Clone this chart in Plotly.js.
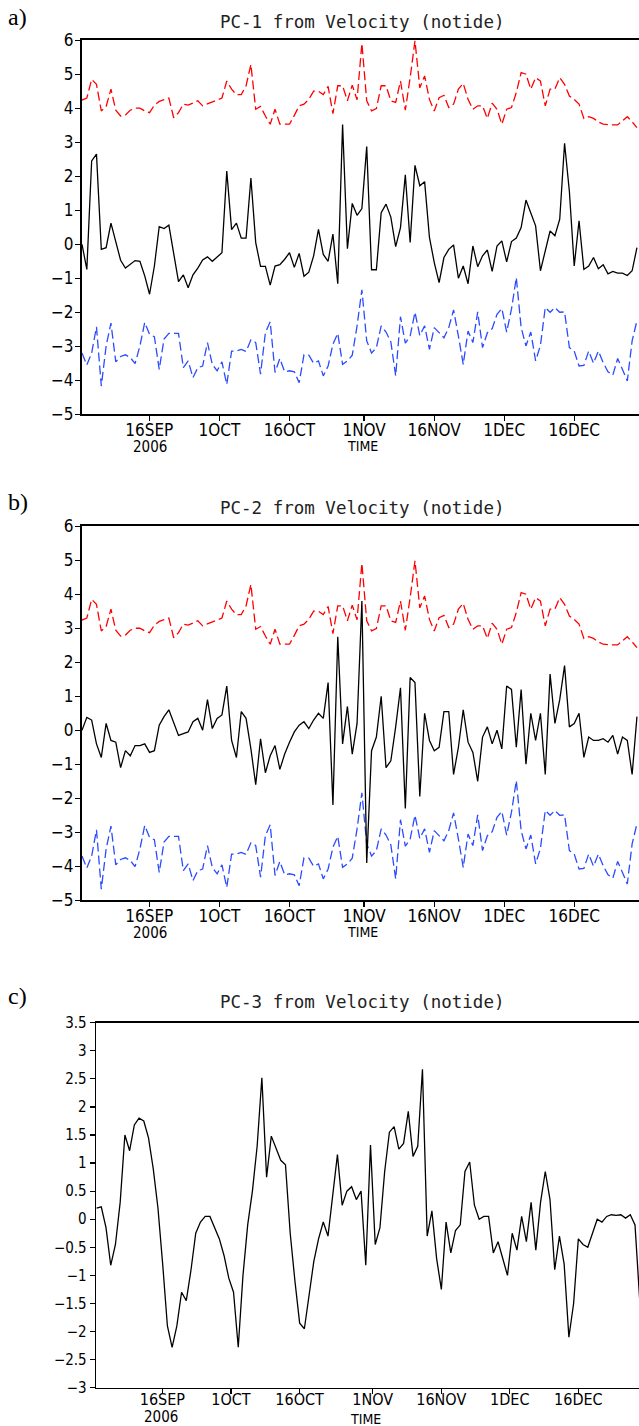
<!DOCTYPE html>
<html><head><meta charset="utf-8">
<script src="https://cdn.plot.ly/plotly-3.0.1.min.js"></script>
<style>html,body{margin:0;padding:0;background:#fff;overflow:hidden}#chart{width:639px;height:1426px}</style>
</head><body><div id="chart"></div>
<script>
// ---- data (one value every ~24.8 h, starting 2006-09-01 14:10) ----
const startTime = '2006-09-01T14:10:00Z';
const stepHours = 24.8;

const tickDates = ['2006-09-16','2006-10-01','2006-10-16','2006-11-01','2006-11-16','2006-12-01','2006-12-16'];
const tickLabels = ['16SEP','1OCT','16OCT','1NOV','16NOV','1DEC','16DEC'];

const pc1Black = [0.0,-0.74,2.45,2.65,-0.15,-0.1,0.62,0.05,-0.47,-0.7,-0.6,-0.48,-0.5,-0.93,-1.47,-0.64,0.52,0.46,0.56,-0.32,
 -1.1,-0.9,-1.28,-0.9,-0.7,-0.46,-0.37,-0.5,-0.36,-0.25,2.15,0.43,0.62,0.18,0.18,1.95,0.05,-0.65,-0.65,-1.2,
 -0.64,-0.6,-0.44,-0.25,-0.68,-0.27,-0.94,-0.82,-0.34,0.44,-0.3,-0.5,0.3,-1.16,3.52,-0.13,1.2,0.85,1.05,2.87,
 -0.75,-0.75,0.93,1.18,0.8,-0.07,0.49,2.04,0.05,2.32,1.72,1.84,0.2,-0.54,-1.13,-0.39,-0.15,-0.02,-1.0,-0.64,
 -1.16,-0.05,-0.66,-0.34,-0.17,-0.8,-0.05,0.1,-0.52,0.08,0.18,0.49,1.3,0.93,0.54,-0.78,-0.2,0.39,0.25,0.74,
 2.97,1.55,-0.64,0.69,-0.74,-0.64,-0.39,-0.72,-0.6,-0.87,-0.8,-0.85,-0.85,-0.92,-0.78,-0.1];
const pc1Red = [4.24,4.3,4.85,4.7,3.92,4.05,4.56,3.94,3.77,3.8,3.94,4.0,4.0,3.92,3.87,4.09,4.2,4.26,4.3,3.72,
 3.87,4.12,4.09,4.15,4.22,4.07,4.13,4.19,4.25,4.3,4.8,4.56,4.4,4.4,4.66,5.29,3.97,4.05,3.77,3.53,
 3.97,3.53,3.53,3.53,3.79,4.07,4.12,4.26,4.5,4.5,4.4,4.64,3.84,4.66,4.66,4.22,4.68,4.25,5.91,4.22,
 3.92,3.99,4.66,4.66,4.22,4.17,4.8,3.94,4.9,5.98,4.6,4.95,4.26,3.92,4.31,4.38,4.02,4.12,4.56,4.73,
 4.26,3.97,4.07,4.07,3.7,4.15,3.97,3.53,3.97,4.02,4.46,5.05,5.0,4.56,4.9,4.8,4.07,4.56,4.56,4.9,
 4.7,4.36,4.26,4.12,3.7,3.75,3.7,3.6,3.53,3.51,3.51,3.51,3.63,3.75,3.6,3.43];
const pc1Blue = [-3.2,-3.55,-3.2,-2.43,-4.17,-2.99,-2.32,-3.46,-3.3,-3.25,-3.33,-3.51,-2.99,-2.3,-2.65,-2.72,-3.68,-2.79,-2.62,-2.62,
 -2.62,-3.63,-3.43,-3.92,-3.63,-3.58,-2.89,-3.53,-3.72,-3.46,-4.12,-3.14,-3.14,-3.09,-3.15,-2.81,-2.89,-3.82,-2.6,-2.28,
 -3.77,-3.36,-3.75,-3.72,-3.75,-4.07,-3.25,-3.26,-3.5,-3.43,-3.87,-3.58,-2.94,-2.62,-3.53,-3.43,-3.26,-2.4,-1.34,-2.84,
 -3.2,-3.04,-2.4,-2.58,-2.87,-3.87,-2.13,-2.91,-2.7,-2.0,-2.68,-2.4,-3.09,-2.45,-2.6,-2.75,-2.45,-1.93,-2.7,-3.53,
 -2.55,-2.89,-1.99,-3.04,-2.6,-2.48,-2.06,-1.89,-2.58,-1.91,-0.98,-2.45,-2.99,-2.58,-3.43,-2.97,-1.86,-2.0,-1.86,-2.0,
 -1.99,-3.04,-3.14,-3.58,-3.56,-3.14,-3.5,-3.14,-3.48,-3.75,-3.85,-3.36,-3.68,-4.02,-2.84,-2.25];

const pc2Black = [0.0,0.38,0.3,-0.4,-0.8,0.2,-0.3,-0.35,-1.1,-0.6,-0.75,-0.45,-0.45,-0.4,-0.65,-0.6,0.15,0.4,0.6,0.2,
 -0.15,-0.1,-0.05,0.25,0.35,0.0,0.9,0.05,0.35,0.45,1.3,-0.3,-0.8,0.55,0.35,-0.55,-1.6,-0.25,-1.25,-0.75,
 -0.45,-1.15,-0.7,-0.35,-0.05,0.15,0.25,0.05,0.3,0.5,0.35,1.4,-2.2,2.75,-0.4,0.7,-0.7,0.2,3.8,-3.9,
 -0.6,-0.2,1.0,-1.1,-0.9,0.1,1.25,-2.3,1.55,1.4,-1.95,0.5,-0.3,-0.6,-0.5,0.55,0.55,-1.3,-0.5,0.6,
 -0.35,-0.65,-1.5,-0.2,0.1,-0.4,0.0,-0.55,1.3,1.2,-0.5,1.2,-1.0,0.5,-0.3,0.5,-1.3,1.65,0.2,0.9,
 1.9,0.1,0.2,0.5,-0.8,-0.2,-0.3,-0.3,-0.25,-0.35,-0.15,-0.7,-0.2,-0.3,-1.3,0.4];
const pc2Red = [3.24,3.3,3.85,3.7,2.92,3.05,3.56,2.94,2.77,2.8,2.94,3.0,3.0,2.92,2.87,3.09,3.2,3.26,3.3,2.72,
 2.87,3.12,3.09,3.15,3.22,3.07,3.13,3.19,3.25,3.3,3.8,3.56,3.4,3.4,3.66,4.29,2.97,3.05,2.77,2.53,
 2.97,2.53,2.53,2.53,2.79,3.07,3.12,3.26,3.5,3.5,3.4,3.64,2.84,3.66,3.66,3.22,3.68,3.25,4.91,3.22,
 2.92,2.99,3.66,3.66,3.22,3.17,3.8,2.94,3.9,4.98,3.6,3.95,3.26,2.92,3.31,3.38,3.02,3.12,3.56,3.73,
 3.26,2.97,3.07,3.07,2.7,3.15,2.97,2.53,2.97,3.02,3.46,4.05,4.0,3.56,3.9,3.8,3.07,3.56,3.56,3.9,
 3.7,3.36,3.26,3.12,2.7,2.75,2.7,2.6,2.53,2.51,2.51,2.51,2.63,2.75,2.6,2.43];
const pc2Blue = [-3.7,-4.05,-3.7,-2.93,-4.67,-3.49,-2.82,-3.96,-3.8,-3.75,-3.83,-4.01,-3.49,-2.8,-3.15,-3.22,-4.18,-3.29,-3.12,-3.12,
 -3.12,-4.13,-3.93,-4.42,-4.13,-4.08,-3.39,-4.03,-4.22,-3.96,-4.62,-3.64,-3.64,-3.59,-3.65,-3.31,-3.39,-4.32,-3.1,-2.78,
 -4.27,-3.86,-4.25,-4.22,-4.25,-4.57,-3.75,-3.76,-4.0,-3.93,-4.37,-4.08,-3.44,-3.12,-4.03,-3.93,-3.76,-2.9,-1.84,-3.34,
 -3.7,-3.54,-2.9,-3.08,-3.37,-4.37,-2.63,-3.41,-3.2,-2.5,-3.18,-2.9,-3.59,-2.95,-3.1,-3.25,-2.95,-2.43,-3.2,-4.03,
 -3.05,-3.39,-2.49,-3.54,-3.1,-2.98,-2.56,-2.39,-3.08,-2.41,-1.48,-2.95,-3.49,-3.08,-3.93,-3.47,-2.36,-2.5,-2.36,-2.5,
 -2.49,-3.54,-3.64,-4.08,-4.06,-3.64,-4.0,-3.64,-3.98,-4.25,-4.35,-3.86,-4.18,-4.52,-3.34,-2.75];

const pc3Black = [0.2,0.22,-0.15,-0.82,-0.45,0.3,1.5,1.22,1.68,1.8,1.75,1.45,0.9,0.2,-0.8,-1.9,-2.28,-1.9,-1.3,-1.45,
 -0.9,-0.25,-0.05,0.05,0.05,-0.15,-0.35,-0.65,-1.05,-1.3,-2.28,-1.0,-0.1,0.5,1.3,2.52,0.75,1.48,1.25,1.05,
 0.97,-0.25,-1.1,-1.85,-1.95,-1.3,-0.75,-0.35,-0.05,-0.3,0.4,1.15,0.25,0.5,0.58,0.35,0.5,-0.82,1.32,-0.45,
 -0.15,0.85,1.55,1.65,1.25,1.35,1.92,1.12,1.3,2.67,-0.3,0.15,-0.7,-1.25,-0.05,-0.6,-0.2,-0.1,0.85,1.02,
 0.25,0.0,0.05,0.05,-0.6,-0.4,-0.7,-1.0,-0.25,-0.55,0.05,-0.4,0.3,-0.55,0.3,0.85,0.35,-0.9,-0.3,-0.8,
 -2.1,-1.5,-0.35,-0.45,-0.5,-0.25,0.0,-0.05,0.05,0.08,0.07,0.08,0.02,0.08,-0.1,-1.45];

const titles = ['PC-1 from Velocity (notide)','PC-2 from Velocity (notide)','PC-3 from Velocity (notide)'];
const panelLetters = ['a)','b)','c)'];

// ---- build ----
const t0 = Date.parse(startTime);
const dayMs = 86400000;
function times(n){ const a=[]; for(let i=0;i<n;i++){ a.push(new Date(t0 + i*stepHours*3600000).toISOString()); } return a; }
function iso(ms){ return new Date(ms).toISOString(); }

const W = 639, H = 1426;
const tickFam = 'DejaVu Sans Condensed, Liberation Sans Narrow, Liberation Sans, Arial, sans-serif';
const lineBlack = {color:'#000000', width:1.3};
const lineRed = {color:'#ff0000', width:1.3, dash:'9px,4px'};
const lineBlue = {color:'#2b4bff', width:1.3, dash:'9px,4px'};

const traces = [];
function add(vals, line, ax){
  traces.push({x: times(vals.length), y: vals, type:'scatter', mode:'lines', line: line,
    xaxis: 'x'+(ax===1?'':ax), yaxis: 'y'+(ax===1?'':ax), hoverinfo:'skip', cliponaxis:true});
}
add(pc1Red, lineRed, 1); add(pc1Blue, lineBlue, 1); add(pc1Black, lineBlack, 1);
add(pc2Red, lineRed, 2); add(pc2Blue, lineBlue, 2); add(pc2Black, lineBlack, 2);
add(pc3Black, lineBlack, 3);

function py(px){ return 1 - px/H; }
function xaxis(left, rangeStartDays, pxPerDay, lw, anchor, fs, standoff){
  const widthPx = W - left;
  return {
    domain:[left/W, 1], anchor: anchor, type:'date',
    range:[iso(t0 + rangeStartDays*dayMs), iso(t0 + (rangeStartDays + widthPx/pxPerDay)*dayMs)],
    tickmode:'array', tickvals: tickDates, ticktext: tickLabels,
    ticks:'outside', ticklen:5, tickwidth:1.3, tickcolor:'#000', ticklabelstandoff: standoff,
    showline:true, linecolor:'#000', linewidth:lw, mirror:true,
    showgrid:false, zeroline:false, fixedrange:true,
    tickfont:{family:tickFam, size:fs, color:'#000'}
  };
}
function yaxis(top, bottom, rng, dt, lw, anchor, fs, standoff){
  return {
    domain:[py(bottom), py(top)], anchor: anchor, range: rng, dtick: dt, tick0: 0,
    ticks:'outside', ticklen:5, tickwidth:1.3, tickcolor:'#000', ticklabelstandoff: standoff,
    showline:true, linecolor:'#000', linewidth:lw, mirror:false,
    showgrid:false, zeroline:false, fixedrange:true,
    tickfont:{family:tickFam, size:fs, color:'#000'}
  };
}

const layout = {
  width:W, height:H, margin:{l:0,r:0,t:0,b:0},
  paper_bgcolor:'#fff', plot_bgcolor:'#fff', showlegend:false,
  xaxis:  xaxis(82, 0, 4.67, 2, 'y', 17, -6),
  yaxis:  yaxis(40.2, 414.3, [-5,6], 1, 2, 'x', 17, -2),
  xaxis2: xaxis(82, 0, 4.67, 2, 'y2', 17, -6),
  yaxis2: yaxis(526.2, 900.3, [-5,6], 1, 2, 'x2', 17, -2),
  xaxis3: xaxis(96, -0.12, 4.571, 1.3, 'y3', 16, -8),
  yaxis3: yaxis(1022.7, 1387.7, [-3,3.5], 0.5, 1.3, 'x3', 15, 0),
  annotations: []
};

const titleY = [22, 508, 1002];
const letterY = [17, 502, 996];
const yearY = [447, 933, 1417];
const timeY = [446, 932, 1419];
const yearX = [150, 150, 161];
const timeX = [362, 362, 365];
for(let k=0;k<3;k++){
  layout.annotations.push({text: titles[k], xref:'paper', yref:'paper', x:362/W, y:py(titleY[k]),
    xanchor:'center', yanchor:'middle', showarrow:false,
    font:{family:'DejaVu Sans Mono, monospace', size:17.5, color:'#222'}});
  layout.annotations.push({text: panelLetters[k], xref:'paper', yref:'paper', x:6/W, y:py(letterY[k]),
    xanchor:'left', yanchor:'middle', showarrow:false,
    font:{family:'Liberation Serif, Times New Roman, serif', size:24, color:'#000'}});
  layout.annotations.push({text:'2006', xref:'paper', yref:'paper', x:yearX[k]/W, y:py(yearY[k]),
    xanchor:'center', yanchor:'middle', showarrow:false, borderpad:0,
    font:{family:tickFam, size:15, color:'#000'}});
  layout.annotations.push({text:'TIME', xref:'paper', yref:'paper', x:timeX[k]/W, y:py(timeY[k]),
    xanchor:'center', yanchor:'middle', showarrow:false, borderpad:0,
    font:{family:tickFam, size:14, color:'#000'}});
}

Plotly.newPlot('chart', traces, layout, {staticPlot:true, displayModeBar:false});
</script></body></html>
